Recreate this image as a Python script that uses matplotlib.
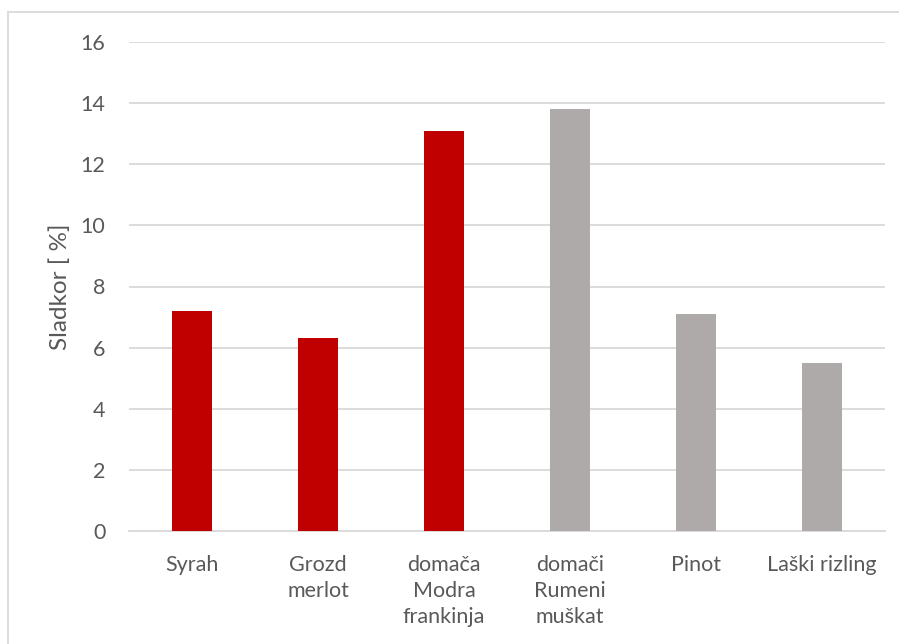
import matplotlib
matplotlib.use("Agg")
import matplotlib.pyplot as plt
from matplotlib.patches import Rectangle

categories = ["Syrah", "Grozd\nmerlot", "domača\nModra\nfrankinja", "domači\nRumeni\nmuškat", "Pinot", "Laški rizling"]
values = [7.2, 6.3, 13.1, 13.8, 7.1, 5.5]
colors = ["#C00000", "#C00000", "#C00000", "#AEAAAA", "#AEAAAA", "#AEAAAA"]
yticks = [0, 2, 4, 6, 8, 10, 12, 14, 16]

plt.rcParams['font.family'] = ['Lato', 'DejaVu Sans']
text_color = "#595959"
fs = 15.5

fig = plt.figure(figsize=(8.99, 6.44), dpi=100)
ax = fig.add_axes([129/899, 1-531/644, (885-129)/899, (531-42)/644])

x = list(range(len(categories)))
ax.bar(x, values, width=0.317, color=colors, zorder=3)
ax.set_xlim(-0.5, len(categories)-0.5)
ax.set_ylim(0, 16)
ax.set_yticks(yticks)
ax.set_yticklabels([str(t) for t in yticks])
ax.set_xticks(x)
ax.set_xticklabels(categories, linespacing=1.38, va='top')
ax.tick_params(axis='both', length=0, colors=text_color, labelsize=fs)
ax.tick_params(axis='y', pad=17)
ax.tick_params(axis='x', pad=17)
ax.grid(axis='y', color="#D9D9D9", linewidth=1.3, zorder=0)
for s in ['top', 'right', 'left']:
    ax.spines[s].set_visible(False)
ax.spines['bottom'].set_color("#D9D9D9")
ax.spines['bottom'].set_linewidth(1.3)
ax.set_ylabel("Sladkor [ %]", color=text_color, fontsize=17.5, labelpad=7)

fig.patches.append(Rectangle((8/899, -0.1), 1.2, 1-12/644+0.1, transform=fig.transFigure,
                             fill=False, edgecolor="#D9D9D9", linewidth=1.3, zorder=0))

fig.savefig("out.png", dpi=100)
